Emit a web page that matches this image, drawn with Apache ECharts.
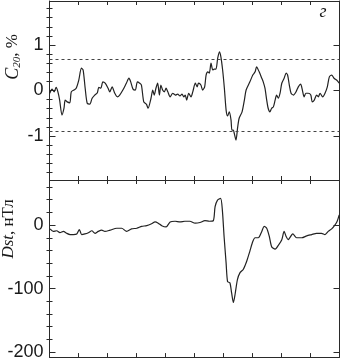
<!DOCTYPE html>
<html><head><meta charset="utf-8">
<script src="https://cdn.jsdelivr.net/npm/echarts@6/dist/echarts.min.js"></script>
<style>html,body{margin:0;padding:0;background:#fff}#c{width:342px;height:361px}</style>
</head><body><div id="c"></div>
<script>
// ---- data (x in axis-tick units, 0..10) ----
const c20Time = [0.01,0.09,0.16,0.23,0.29,0.35,0.43,0.50,0.54,0.61,0.70,0.75,0.84,0.92,1.01,1.10,1.16,1.23,1.30,1.39,1.47,1.56,1.65,1.70,1.77,1.84,1.92,2.02,2.08,2.16,2.25,2.34,2.42,2.53,2.65,2.74,2.80,2.88,2.96,3.03,3.11,3.17,3.25,3.34,3.40,3.50,3.56,3.61,3.67,3.73,3.79,3.84,3.90,3.96,4.02,4.08,4.16,4.25,4.34,4.42,4.50,4.57,4.63,4.68,4.73,4.80,4.88,4.94,5.03,5.09,5.14,5.22,5.28,5.35,5.40,5.46,5.51,5.57,5.63,5.68,5.74,5.80,5.86,5.91,5.97,6.03,6.09,6.14,6.20,6.26,6.29,6.34,6.37,6.43,6.49,6.54,6.64,6.72,6.78,6.91,7.01,7.09,7.14,7.23,7.32,7.37,7.43,7.49,7.54,7.60,7.66,7.72,7.78,7.83,7.89,7.95,8.01,8.09,8.16,8.21,8.27,8.33,8.41,8.50,8.58,8.66,8.72,8.78,8.84,8.92,9.01,9.06,9.13,9.21,9.27,9.33,9.42,9.50,9.58,9.65,9.73,9.81,9.90,9.99];
const c20Values = [-0.06,0.03,-0.03,0.07,-0.03,-0.21,-0.54,-0.39,-0.21,-0.25,-0.27,-0.03,0.01,0.05,0.23,0.49,0.45,0.05,-0.28,-0.30,-0.17,-0.10,-0.05,0.07,0.05,0.19,0.16,0.05,-0.03,0.08,-0.06,-0.14,-0.10,0.01,0.16,0.27,0.19,0.03,0.01,0.19,0.16,0.12,-0.25,-0.30,-0.39,-0.17,0.01,-0.10,0.05,0.16,-0.10,0.12,0.01,-0.03,0.05,-0.03,-0.14,-0.06,-0.10,-0.08,-0.12,-0.08,-0.14,-0.10,-0.21,-0.06,-0.14,-0.03,0.16,0.08,0.16,0.12,0.01,0.08,0.34,0.41,0.38,0.60,0.45,0.47,0.47,0.71,0.85,0.74,0.45,0.05,-0.43,-0.56,-0.47,-0.65,-0.87,-0.87,-0.94,-1.09,-0.80,-0.61,-0.47,-0.21,0.01,0.19,0.34,0.41,0.52,0.41,0.27,0.19,0.05,-0.21,-0.39,-0.47,-0.39,-0.36,-0.21,-0.10,-0.17,-0.06,0.16,0.27,0.38,0.34,0.12,-0.06,-0.10,-0.03,0.08,0.14,0.01,-0.14,-0.06,-0.06,-0.10,-0.25,-0.21,-0.10,-0.14,-0.06,-0.14,-0.06,0.08,0.30,0.34,0.27,0.23,0.16];
const c20Thresholds = [0.69, -0.89];

const dstTime = [0.02,0.13,0.25,0.36,0.48,0.59,0.71,0.82,0.94,1.03,1.11,1.22,1.34,1.46,1.57,1.68,1.80,1.91,2.09,2.32,2.49,2.66,2.83,3.01,3.18,3.35,3.52,3.64,3.75,3.87,4.02,4.16,4.33,4.50,4.67,4.84,5.02,5.19,5.36,5.51,5.65,5.71,5.79,5.90,5.96,6.02,6.09,6.14,6.22,6.28,6.34,6.40,6.48,6.57,6.68,6.80,6.91,7.01,7.09,7.20,7.32,7.40,7.49,7.58,7.66,7.78,7.89,8.01,8.09,8.16,8.23,8.39,8.52,8.70,8.87,9.04,9.21,9.38,9.50,9.61,9.73,9.84,9.92,9.99];
const dstValues = [-6,-10,-9,-12,-10,-13,-15,-15,-14,-7,-15,-14,-12,-9,-13,-10,-8,-10,-8,-5,-5,-10,-6,-5,-2,-1,2,5,3,-1,-3,5,6,5,6,6,3,4,7,6,7,29,39,42,24,-18,-60,-89,-91,-107,-122,-109,-86,-75,-70,-57,-41,-26,-20,-20,-10,-2,-5,-18,-34,-38,-32,-23,-10,-18,-23,-14,-20,-20,-17,-15,-13,-13,-15,-10,-6,0,6,16];

const xTicks = [0,1,2,3,4,5,6,7,8,9,10];
const c20Labels = [-1, 0, 1];
const c20Minor = [-1.8,-1.6,-1.4,-1.2,-0.8,-0.6,-0.4,-0.2,0.2,0.4,0.6,0.8,1.2,1.4,1.6,1.8];
const dstLabels = [-200, -100, 0];
const dstMinor = [-180,-160,-140,-120,-80,-60,-40,-20,20,40,60];

// ---- chart ----
const AX = '#2a2a2a';
const panels = [
  {grid:{left:49.5, top:1, width:290, height:179}, min:-1.967, max:1.967, labels:c20Labels, minor:c20Minor},
  {grid:{left:49.5, top:180, width:290, height:178.3}, min:-208, max:71, labels:dstLabels, minor:dstMinor}
];
const grid = panels.map(p => p.grid);
const xAxis = [], yAxis = [];
panels.forEach((p, gi) => {
  ['bottom','top'].forEach(pos => xAxis.push({
    gridIndex: gi, type: 'value', min: 0, max: 10, position: pos,
    axisLine: {show: true, onZero: false, lineStyle: {color: AX, width: 1}},
    axisTick: {show: true, inside: true, length: 4, customValues: xTicks, lineStyle: {color: AX}},
    axisLabel: {show: false}, splitLine: {show: false}
  }));
  ['left','right'].forEach(pos => {
    yAxis.push({
      gridIndex: gi, type: 'value', min: p.min, max: p.max, position: pos,
      axisLine: {show: true, onZero: false, lineStyle: {color: AX, width: 1}},
      axisTick: {show: true, inside: true, length: 6, customValues: p.labels, lineStyle: {color: AX}},
      axisLabel: pos === 'left' ? {show: true, customValues: p.labels, margin: 6, fontSize: 18,
        fontFamily: 'Liberation Sans', color: '#1a1a1a'} : {show: false},
      splitLine: {show: false}
    });
    yAxis.push({
      gridIndex: gi, type: 'value', min: p.min, max: p.max, position: pos,
      axisLine: {show: false},
      axisTick: {show: true, inside: true, length: 3, customValues: p.minor, lineStyle: {color: AX}},
      axisLabel: {show: false}, splitLine: {show: false}
    });
  });
});

const option = {
  animation: false,
  backgroundColor: '#fff',
  grid, xAxis, yAxis,
  series: [
    {
      type: 'line', xAxisIndex: 0, yAxisIndex: 0, showSymbol: false, smooth: 0.25,
      data: c20Time.map((t, i) => [t, c20Values[i]]),
      lineStyle: {color: '#222', width: 1.2},
      markLine: {
        silent: true, symbol: 'none', label: {show: false},
        lineStyle: {color: '#444', type: [3, 3], width: 1},
        data: c20Thresholds.map(v => ({yAxis: v}))
      }
    },
    {
      type: 'line', xAxisIndex: 2, yAxisIndex: 4, showSymbol: false, smooth: 0.25,
      data: dstTime.map((t, i) => [t, dstValues[i]]),
      lineStyle: {color: '#222', width: 1.2}
    }
  ],
  graphic: [
    {type: 'text', x: 13, y: 57, rotation: Math.PI / 2,
      style: {text: '{i|C}{s|20}{n|, %}', align: 'center', verticalAlign: 'middle',
        rich: {
          i: {fontFamily: 'Liberation Serif', fontStyle: 'italic', fontSize: 18, fill: '#1a1a1a'},
          s: {fontFamily: 'Liberation Serif', fontStyle: 'italic', fontSize: 11, fill: '#1a1a1a', padding: [8, 0, 0, 0]},
          n: {fontFamily: 'Liberation Serif', fontSize: 17, fill: '#1a1a1a'}
        }}},
    {type: 'text', x: 9, y: 229, rotation: Math.PI / 2,
      style: {text: '{i|Dst}{n|, нТл}', align: 'center', verticalAlign: 'middle',
        rich: {
          i: {fontFamily: 'Liberation Serif', fontStyle: 'italic', fontSize: 17, fill: '#1a1a1a'},
          n: {fontFamily: 'Liberation Serif', fontSize: 17, fill: '#1a1a1a'}
        }}},
    {type: 'text', x: 323, y: 12,
      style: {text: 'г', fontFamily: 'Liberation Serif', fontStyle: 'italic', fontSize: 18,
        fill: '#1a1a1a', align: 'center', verticalAlign: 'middle'}}
  ]
};
const chart = echarts.init(document.getElementById('c'), null, {renderer: 'canvas'});
chart.setOption(option);
</script>
</body></html>
